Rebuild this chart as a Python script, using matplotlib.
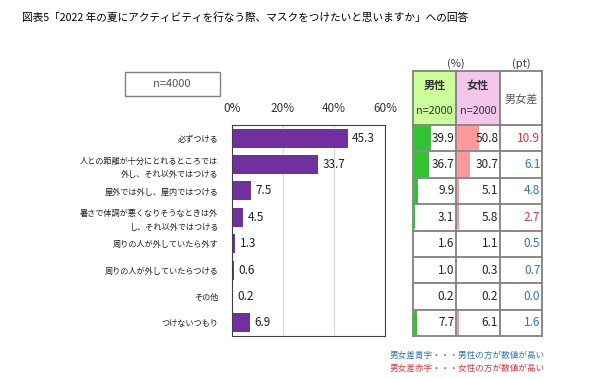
import matplotlib.pyplot as plt

plt.rcParams['font.family'] = ['Noto Sans CJK JP', 'DejaVu Sans']

# data
categories = ['必ずつける',
              '人との距離が十分にとれるところでは\n外し、それ以外ではつける',
              '屋外では外し、屋内ではつける',
              '暑さで体調が悪くなりそうなときは外\nし、それ以外ではつける',
              '周りの人が外していたら外す',
              '周りの人が外していたらつける',
              'その他',
              'つけないつもり']
total = [45.3, 33.7, 7.5, 4.5, 1.3, 0.6, 0.2, 6.9]
male = [39.9, 36.7, 9.9, 3.1, 1.6, 1.0, 0.2, 7.7]
female = [50.8, 30.7, 5.1, 5.8, 1.1, 0.3, 0.2, 6.1]
diff = [10.9, 6.1, 4.8, 2.7, 0.5, 0.7, 0.0, 1.6]
diff_red = [True, False, False, True, False, False, False, False]
ticks = [0, 20, 40, 60]

W, H = 590, 379
fig = plt.figure(figsize=(W / 100, H / 100), dpi=100)


def ax_px(l, t, r, b):
    return fig.add_axes([l / W, 1 - b / H, (r - l) / W, (b - t) / H])


def fx(x):
    return x / W


def fy(y):
    return 1 - y / H


purple = '#7030a0'
grid_col = '#808080'
blue = '#2e75b6'
red = '#e8303a'
n = len(categories)
ys = list(range(n))

# title
fig.text(fx(22), fy(18), '図表5「2022 年の夏にアクティビティを行なう際、マスクをつけたいと思いますか」への回答',
         fontsize=7.7, va='center', ha='left')

# n box
fig.text(fx(172), fy(84), 'n=4000', fontsize=8, color='#555555', ha='center', va='center')
fig.add_artist(plt.Rectangle((fx(125), fy(96)), fx(95), fy(72) - fy(96),
                             fill=False, ec='#808080', lw=1.0, transform=fig.transFigure))

# main bar chart
ax = ax_px(232, 125, 385, 336)
ax.barh(ys, total, height=0.72, color=purple)
ax.set_xlim(0, 60)
ax.set_ylim(n - 0.5, -0.5)
ax.set_xticks(ticks)
ax.set_xticklabels([f'{t}%' for t in ticks], fontsize=8.5, color='#333333')
ax.xaxis.tick_top()
ax.tick_params(axis='x', length=0, pad=7)
ax.set_yticks(ys)
ax.set_yticklabels(categories, fontsize=5.9, color='#222222', linespacing=1.7)
ax.tick_params(axis='y', length=0, pad=10)
ax.xaxis.grid(True, color='#d9d9d9', lw=0.8)
ax.set_axisbelow(True)
for s in ax.spines.values():
    s.set_color('#404040')
    s.set_linewidth(0.8)
for y, v in zip(ys, total):
    ax.text(v + 1.8, y, f'{v:.1f}', va='center', ha='left', fontsize=8.5, color='#222222')

# table columns
cols = [(413, 456), (456, 500), (500, 542)]
top_h, top_r, bot = 71, 125, 336

# header
fig.add_artist(plt.Rectangle((fx(413), fy(top_r)), fx(43), fy(top_h) - fy(top_r),
                             fc='#ccff99', ec='none', transform=fig.transFigure))
fig.add_artist(plt.Rectangle((fx(456), fy(top_r)), fx(44), fy(top_h) - fy(top_r),
                             fc='#f4c6ec', ec='none', transform=fig.transFigure))
fig.text(fx(434.5), fy(85), '男性', fontsize=8, ha='center', va='center', fontweight='bold', color='#333333')
fig.text(fx(478), fy(85), '女性', fontsize=8, ha='center', va='center', fontweight='bold', color='#333333')
fig.text(fx(434.5), fy(111), 'n=2000', fontsize=7.8, ha='center', va='center', color='#333333')
fig.text(fx(478), fy(111), 'n=2000', fontsize=7.8, ha='center', va='center', color='#333333')
fig.text(fx(521), fy(99), '男女差', fontsize=8, ha='center', va='center', color='#555555')
fig.text(fx(456), fy(64), '(%)', fontsize=8, ha='center', va='center', color='#333333')
fig.text(fx(521), fy(64), '(pt)', fontsize=8, ha='center', va='center', color='#333333')

col_axes = []
for (l, r) in cols:
    a = ax_px(l, top_r, r, bot)
    a.set_xlim(0, 100)
    a.set_ylim(n - 0.5, -0.5)
    a.set_xticks([])
    a.set_yticks([])
    for s in a.spines.values():
        s.set_visible(False)
    for k in range(1, n):
        a.axhline(k - 0.5, color=grid_col, lw=1.3)
    col_axes.append(a)

col_axes[0].barh(ys, male, height=0.92, color='#33c233', left=1.5)
col_axes[1].barh(ys, female, height=0.92, color='#ff9999', left=1.5)
for y in ys:
    col_axes[0].text(96, y, f'{male[y]:.1f}', ha='right', va='center', fontsize=8.5, color='#222222')
    col_axes[1].text(96, y, f'{female[y]:.1f}', ha='right', va='center', fontsize=8.5, color='#222222')
    col_axes[2].text(96, y, f'{diff[y]:.1f}', ha='right', va='center', fontsize=8.5,
                     color=red if diff_red[y] else blue)

# table grid lines
for x in [413, 456, 500, 542]:
    fig.add_artist(plt.Line2D([fx(x), fx(x)], [fy(top_h), fy(bot)], color=grid_col, lw=1.3,
                              transform=fig.transFigure))
for y in [top_h, top_r, bot]:
    fig.add_artist(plt.Line2D([fx(413), fx(542)], [fy(y), fy(y)], color=grid_col, lw=1.3,
                              transform=fig.transFigure))

# notes
fig.text(fx(390), fy(355), '男女差青字・・・男性の方が数値が高い', fontsize=6.2, color=blue, va='center')
fig.text(fx(390), fy(368), '男女差赤字・・・女性の方が数値が高い', fontsize=6.2, color=red, va='center')

fig.savefig('out.png', dpi=100)
